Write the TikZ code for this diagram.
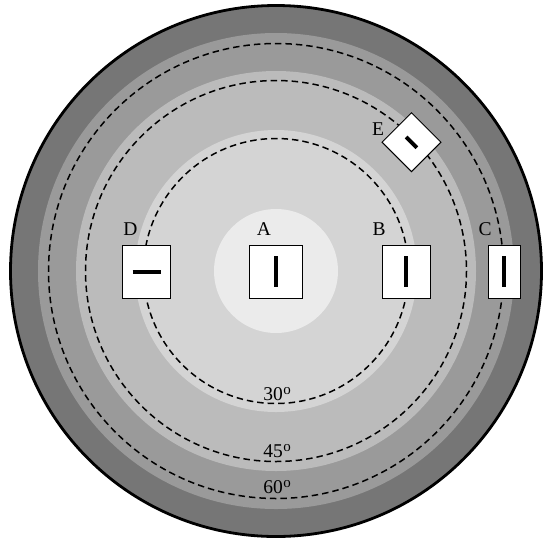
\documentclass[tikz,border=0pt]{standalone}
\usepackage{fontspec}
\setmainfont{Liberation Serif}
\usetikzlibrary{calc}
\definecolor{bandA}{HTML}{767676}
\definecolor{bandB}{HTML}{9A9A9A}
\definecolor{bandC}{HTML}{BBBBBB}
\definecolor{bandD}{HTML}{D4D4D4}
\definecolor{bandE}{HTML}{EBEBEB}
\newcommand{\dego}{\kern0.5pt\raisebox{5.8pt}{\fontsize{15}{15}\selectfont o}}
\begin{document}
\begin{tikzpicture}[x=1pt,y=-1pt,
  box/.style={draw=black,line width=1pt,fill=white,inner sep=0pt},
  bar/.style={line width=3.8pt},
  ring/.style={line width=1.5pt,dash pattern=on 6.5pt off 4pt},
  lbl/.style={font=\fontsize{19.5}{20}\selectfont,anchor=base,inner sep=0pt},
]
\useasboundingbox (0,0) rectangle (543,539);
\coordinate (O) at (276,271);
% shaded bands
\fill[bandA] (O) circle[radius=265.5];
\fill[bandB] (O) circle[radius=238];
\fill[bandC] (O) circle[radius=200];
\fill[bandD] (O) circle[radius=141];
\fill[bandE] (O) circle[radius=62];
\draw[line width=2.8pt] (O) circle[radius=265.5];
% dashed circles
\draw[ring] (O) circle[radius=132.5];
\draw[ring] (O) circle[radius=190.5];
\draw[ring] (O) circle[radius=227.5];
% angle labels
\node[lbl] (l30) at (277,400) {30\dego};
\node[lbl] (l45) at (277,457) {45\dego};
\node[lbl] (l60) at (277,493) {60\dego};
% boxes
\node[box,minimum width=53pt,minimum height=53pt] (A) at (276,271.7) {};
\node[box,minimum width=48pt,minimum height=53pt] (B) at (406.2,271.7) {};
\node[box,minimum width=32pt,minimum height=53pt] (C) at (504,271.7) {};
\node[box,minimum width=48pt,minimum height=53pt] (D) at (146.7,271.7) {};
\node[box,minimum width=41.7pt,minimum height=41.7pt,rotate=45] (E) at (411.5,142.2) {};
% bars
\draw[bar] ($(A.center)+(0,-15.5)$) -- ($(A.center)+(0,15.5)$);
\draw[bar] ($(B.center)+(0,-15.5)$) -- ($(B.center)+(0,15.5)$);
\draw[bar] ($(C.center)+(0,-15.5)$) -- ($(C.center)+(0,15.5)$);
\draw[bar] ($(D.center)+(-14,0)$) -- ($(D.center)+(14,0)$);
\draw[bar] ($(E.center)+(-5.4,-5.2)$) -- ($(E.center)+(5.4,5.6)$);
% letter labels
\node[lbl] (tA) at (264,235) {A};
\node[lbl] (tB) at (379,235) {B};
\node[lbl] (tC) at (485,235) {C};
\node[lbl] (tD) at (130.5,235) {D};
\node[lbl] (tE) at (378,135) {E};
\end{tikzpicture}
\end{document}
